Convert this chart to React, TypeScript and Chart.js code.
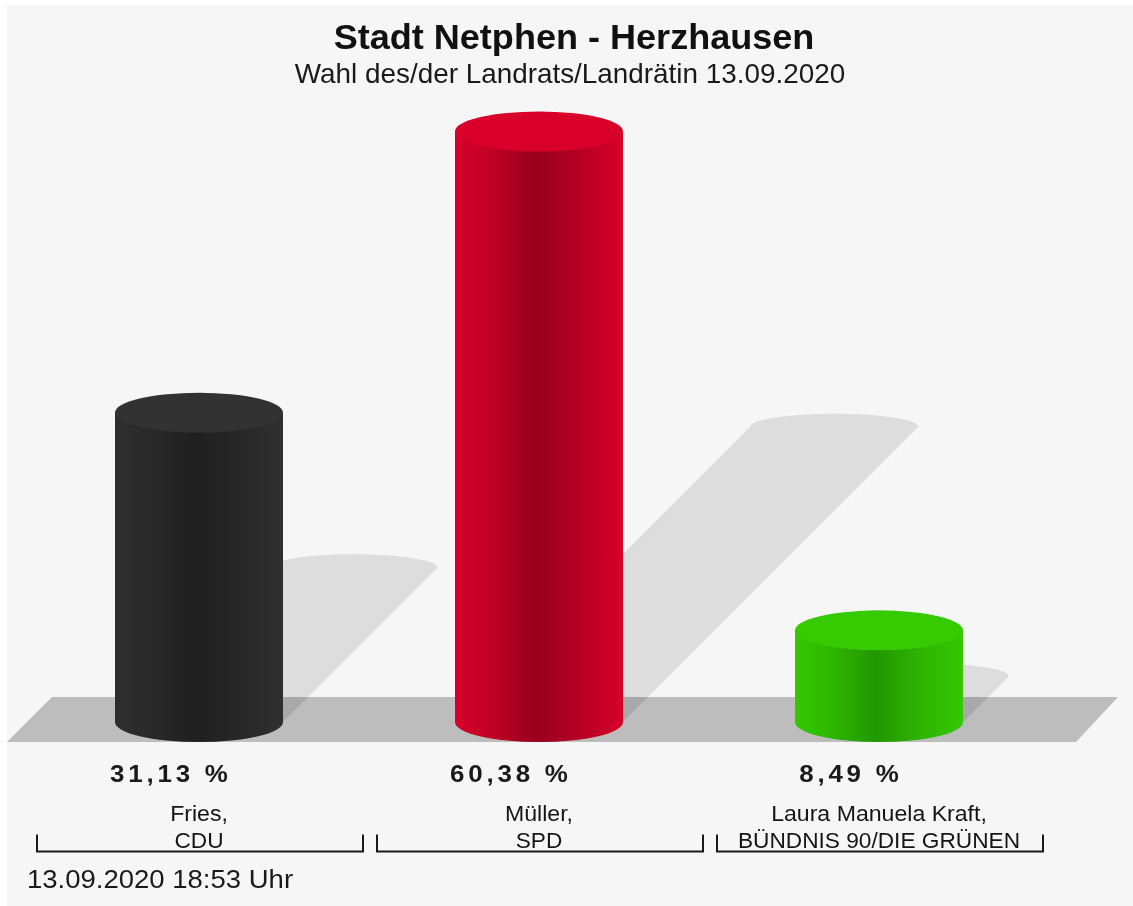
import React, { useEffect, useRef } from "react";
import { Chart, registerables } from "chart.js";

Chart.register(...registerables);

// ---- data ----
const chartTitle = "Stadt Netphen - Herzhausen";
const chartSubtitle = "Wahl des/der Landrats/Landrätin 13.09.2020";
const candidates = ["Fries,", "Müller,", "Laura Manuela Kraft,"];
const parties = ["CDU", "SPD", "BÜNDNIS 90/DIE GRÜNEN"];
const percentages = [31.13, 60.38, 8.49];
const timestamp = "13.09.2020 18:53 Uhr";

// ---- styles ----
const bodyStops: string[][] = [
  ["#2e2e2e", "#292929", "#1f1f1f", "#262626", "#2f2f2f"],
  ["#d6002b", "#c30026", "#98001e", "#b00022", "#d7002a"],
  ["#35c900", "#2eb800", "#229700", "#2cb000", "#35c800"],
];
const topColors = ["#323232", "#d8002a", "#35cb00"];
const FONT = '"Liberation Sans", Arial, Helvetica, sans-serif';

function drawText(
  ctx: CanvasRenderingContext2D,
  text: string,
  x: number,
  y: number,
  font: string,
  align: "left" | "center" | "right",
  sx: number,
  spacing = 0,
  color = "#151515"
) {
  ctx.save();
  ctx.font = font;
  ctx.fillStyle = color;
  (ctx as any).letterSpacing = spacing + "px";
  ctx.textBaseline = "alphabetic";
  ctx.textAlign = "left";
  const w = (ctx.measureText(text).width - spacing) * sx;
  const x0 = align === "center" ? x - w / 2 : align === "right" ? x - w : x;
  ctx.translate(x0, y);
  ctx.scale(sx, 1);
  ctx.fillText(text, 0, 0);
  ctx.restore();
}

const cylinderPlugin = {
  id: "cylinders",
  beforeDraw(chart: any) {
    const ctx: CanvasRenderingContext2D = chart.ctx;
    ctx.save();
    ctx.fillStyle = "#ffffff";
    ctx.fillRect(0, 0, chart.width, chart.height);
    ctx.fillStyle = "#f6f6f6";
    ctx.fillRect(7, 5, chart.width - 7, chart.height - 5);
    ctx.restore();
  },
  afterDatasetsDraw(chart: any) {
    const ctx: CanvasRenderingContext2D = chart.ctx;
    const yScale = chart.scales.y;
    const xScale = chart.scales.x;
    const y0 = yScale.getPixelForValue(0);
    const meta = chart.getDatasetMeta(0);

    ctx.save();
    // floor
    const fTop = y0 - 15;
    const fBot = y0 + 30;
    ctx.beginPath();
    ctx.moveTo(52, fTop);
    ctx.lineTo(1118, fTop);
    ctx.lineTo(1076, fBot);
    ctx.lineTo(7, fBot);
    ctx.closePath();
    ctx.fillStyle = "#bdbdbd";
    ctx.fill();

    const ry = 20;
    // shadows
    meta.data.forEach((el: any) => {
      const p = el.getProps(["x", "y", "base", "width"], true);
      const rx = p.width / 2;
      const yb = p.base + 10;
      const yt = p.y;
      const d = (yb - yt) * 0.5;
      ctx.beginPath();
      ctx.moveTo(p.x - rx, yb);
      ctx.lineTo(p.x + rx, yb);
      ctx.lineTo(p.x + rx + d, yb - d);
      ctx.ellipse(p.x + d, yb - d, rx, 13, 0, 0, Math.PI, true);
      ctx.closePath();
      ctx.fillStyle = "rgba(0,0,0,0.1)";
      ctx.fill();
    });

    // cylinders
    meta.data.forEach((el: any, i: number) => {
      const p = el.getProps(["x", "y", "base", "width"], true);
      const rx = p.width / 2;
      const yb = p.base + 10;
      const yt = p.y;
      const left = p.x - rx;
      const right = p.x + rx;
      const g = ctx.createLinearGradient(left, 0, right, 0);
      const st = bodyStops[i];
      g.addColorStop(0, st[0]);
      g.addColorStop(0.2, st[1]);
      g.addColorStop(0.48, st[2]);
      g.addColorStop(0.7, st[3]);
      g.addColorStop(1, st[4]);
      ctx.beginPath();
      ctx.moveTo(left, yt);
      ctx.lineTo(left, yb);
      ctx.ellipse(p.x, yb, rx, ry, 0, Math.PI, 0, true);
      ctx.lineTo(right, yt);
      ctx.closePath();
      ctx.fillStyle = g;
      ctx.fill();
      // top face
      ctx.beginPath();
      ctx.ellipse(p.x, yt, rx, ry, 0, 0, Math.PI * 2);
      ctx.fillStyle = topColors[i];
      ctx.fill();
    });

    // labels
    const n = chart.data.labels.length;
    const slotW = xScale.width / n;
    meta.data.forEach((el: any, i: number) => {
      const x = el.x;
      const txt = percentages[i].toFixed(2).replace(".", ",") + " %";
      drawText(ctx, txt, x - 30, y0 + 70, "bold 24px " + FONT, "center", 1.08, 3.5, "#1a1a1a");
      drawText(ctx, candidates[i], x, y0 + 109, "22px " + FONT, "center", 1.05, 0, "#151515");
      drawText(ctx, parties[i], x, y0 + 136, "22px " + FONT, "center", 1.03, 0, "#151515");
      const l = x - slotW / 2 + 8;
      const r = x + slotW / 2 - 6;
      const by = y0 + 139.5;
      ctx.beginPath();
      ctx.moveTo(l, by - 17);
      ctx.lineTo(l, by);
      ctx.lineTo(r, by);
      ctx.lineTo(r, by - 17);
      ctx.strokeStyle = "#1a1a1a";
      ctx.lineWidth = 2;
      ctx.stroke();
    });

    drawText(ctx, chartTitle, 574, 49, "bold 35px " + FONT, "center", 1.03, 0, "#111111");
    drawText(ctx, chartSubtitle, 570, 83, "28px " + FONT, "center", 0.995, 0, "#1a1a1a");
    drawText(ctx, timestamp, 27, 888, "25px " + FONT, "left", 1.1, 0, "#1a1a1a");
    ctx.restore();
  },
};

export default function App() {
  const canvasRef = useRef<HTMLCanvasElement | null>(null);

  useEffect(() => {
    if (!canvasRef.current) return;
    const chart = new Chart(canvasRef.current, {
      type: "bar",
      data: {
        labels: candidates.map((c, i) => c + " " + parties[i]),
        datasets: [
          {
            label: chartSubtitle,
            data: percentages,
            backgroundColor: "rgba(0,0,0,0)",
            borderWidth: 0,
            barThickness: 168,
          },
        ],
      },
      options: {
        responsive: false,
        animation: false,
        devicePixelRatio: 1,
        layout: { padding: { left: 29, right: 84, top: 39, bottom: 194 } },
        plugins: {
          legend: { display: false },
          tooltip: { enabled: false },
          title: { display: false },
        },
        scales: {
          x: { type: "category", display: false, offset: true },
          y: { min: 0, max: 70, display: false },
        },
      },
      plugins: [cylinderPlugin],
    });
    return () => chart.destroy();
  }, []);

  return (
    <div style={{ position: "absolute", left: 0, top: 0, width: 1133, height: 906 }}>
      <canvas ref={canvasRef} width={1133} height={906} style={{ display: "block" }} />
    </div>
  );
}
